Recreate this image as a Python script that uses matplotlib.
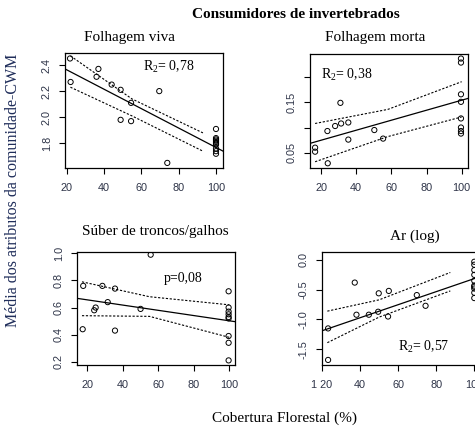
import matplotlib
matplotlib.use("Agg")
import matplotlib.pyplot as plt

plt.rcParams['mathtext.fontset'] = 'custom'
plt.rcParams['mathtext.rm'] = 'Liberation Serif'

W, H = 475, 434

# Folhagem viva
viva_x = [21.8, 22.1, 37, 36, 44.1, 48.9, 54.5, 48.9, 54.5, 69.6, 73.9,
          100, 100, 100, 100, 100, 100, 100, 100, 100, 100]
viva_y = [2.45, 2.27, 2.37, 2.31, 2.25, 2.21, 2.11, 1.98, 1.97, 2.20, 1.65,
          1.91, 1.84, 1.83, 1.82, 1.81, 1.80, 1.79, 1.76, 1.74, 1.72]
viva_fit_x = [19.1, 103.8]
viva_fit_y = [2.37, 1.74]
viva_band_x = [22, 55, 93]
viva_up = [2.47, 2.14, 1.88]
viva_lo = [2.23, 2.01, 1.74]

# Folhagem morta
morta_x = [16.6, 16.6, 23.8, 23.6, 28, 31, 31.4, 35.5, 35.5, 50.3, 55.3,
           99.6, 99.6, 99.6, 99.6, 99.6, 99.6, 99.6, 99.6]
morta_y = [0.060, 0.052, 0.029, 0.093, 0.103, 0.149, 0.108, 0.110, 0.076, 0.095, 0.078,
           0.237, 0.229, 0.166, 0.151, 0.118, 0.100, 0.093, 0.088]
morta_fit_x = [13.7, 103.8]
morta_fit_y = [0.0685, 0.158]
morta_band_x = [16.6, 58, 100]
morta_up = [0.108, 0.136, 0.191]
morta_lo = [0.032, 0.082, 0.121]

# Suber de troncos/galhos
suber_x = [17.7, 17.4, 23.9, 24.7, 28.5, 31.5, 35.6, 35.6, 50, 55.7,
           99.6, 99.6, 99.6, 99.6, 99.6, 99.6, 99.6, 99.6, 99.6]
suber_y = [0.76, 0.44, 0.58, 0.60, 0.76, 0.64, 0.74, 0.43, 0.59, 0.99,
           0.72, 0.60, 0.57, 0.55, 0.53, 0.52, 0.39, 0.34, 0.21]
suber_fit_x = [14.2, 103.2]
suber_fit_y = [0.668, 0.496]
suber_band_x = [17, 55, 100]
suber_up = [0.79, 0.68, 0.62]
suber_lo = [0.54, 0.535, 0.38]

# Ar (log)
ar_x = [23.2, 23.2, 37.2, 38.1, 44.6, 49.5, 49.8, 54.7, 55.1, 69.8, 74.4,
        100, 100, 100, 100, 100, 100, 100, 100, 100, 100]
ar_y = [-1.15, -1.68, -0.38, -0.92, -0.92, -0.87, -0.56, -0.95, -0.52, -0.59, -0.77,
        -0.03, -0.08, -0.17, -0.25, -0.35, -0.43, -0.45, -0.48, -0.55, -0.64]
ar_fit_x = [20, 103]
ar_fit_y = [-1.19, -0.28]
ar_band_x = [22.8, 50, 87.4]
ar_up = [-0.86, -0.67, -0.21]
ar_lo = [-1.39, -0.96, -0.52]

tick_color = '#2e3448'

fig = plt.figure(figsize=(W / 100, H / 100), dpi=100)


def px_axes(l, t, r, b):
    return fig.add_axes([l / W, 1 - b / H, (r - l) / W, (b - t) / H])


def panel(ax, x, y, fx, fy, bx, up, lo, xlim, ylim, yticks, ylabels, xlabels=None):
    ax.scatter(x, y, s=14, facecolors='none', edgecolors='black', linewidths=0.7, zorder=3)
    ax.plot(fx, fy, color='black', lw=0.9)
    ax.plot(bx, up, color='black', lw=0.8, linestyle=(0, (2, 1.5)))
    ax.plot(bx, lo, color='black', lw=0.8, linestyle=(0, (2, 1.5)))
    ax.set_xlim(xlim)
    ax.set_ylim(ylim)
    ax.set_xticks([20, 40, 60, 80, 100])
    if xlabels is not None:
        ax.set_xticklabels(xlabels)
    ax.set_yticks(yticks)
    ax.set_yticklabels(ylabels, rotation=90, va='center')
    ax.tick_params(direction='out', length=4.5, width=0.8, labelsize=7.8,
                   colors='black', labelcolor=tick_color)
    ax.tick_params(axis='x', pad=6)
    ax.tick_params(axis='y', pad=5)
    for lab in ax.get_xticklabels() + ax.get_yticklabels():
        lab.set_family('Liberation Sans')
    for sp in ax.spines.values():
        sp.set_linewidth(0.9)


ax1 = px_axes(65, 53, 223, 168)
panel(ax1, viva_x, viva_y, viva_fit_x, viva_fit_y, viva_band_x, viva_up, viva_lo,
      (19.1, 103.75), (1.611, 2.492), [1.8, 2.0, 2.2, 2.4], ['1.8', '2.0', '2.2', '2.4'])
ax1.text(61, 2.36, r'R$_{\mathregular{2}}$= 0,78', family='Liberation Serif', fontsize=10)

ax2 = px_axes(310, 54, 468, 168)
panel(ax2, morta_x, morta_y, morta_fit_x, morta_fit_y, morta_band_x, morta_up, morta_lo,
      (13.7, 103.6), (0.0196, 0.246), [0.05, 0.10, 0.15, 0.20], ['0.05', '', '0.15', ''])
ax2.text(20, 0.198, r'R$_{\mathregular{2}}$= 0,38', family='Liberation Serif', fontsize=10)

ax3 = px_axes(77, 252, 235, 365)
panel(ax3, suber_x, suber_y, suber_fit_x, suber_fit_y, suber_band_x, suber_up, suber_lo,
      (14.2, 103.2), (0.176, 1.01), [0.2, 0.4, 0.6, 0.8, 1.0], ['0.2', '0.4', '0.6', '0.8', '1.0'])
ax3.text(63, 0.79, 'p=0,08', family='Liberation Serif', fontsize=10)

ax4 = px_axes(322, 252, 480, 365)
panel(ax4, ar_x, ar_y, ar_fit_x, ar_fit_y, ar_band_x, ar_up, ar_lo,
      (20, 103), (-1.765, 0.134), [-1.5, -1.0, -0.5, 0.0], ['-1.5', '-1.0', '-0.5', '0.0'],
      xlabels=['1 20', '40', '60', '80', '100'])
ax4.text(60, -1.53, r'R$_{\mathregular{2}}$= 0,57', family='Liberation Serif', fontsize=10)

fig.text(296 / W, 1 - 15 / H, 'Consumidores de invertebrados', ha='center', va='center',
         family='Liberation Serif', fontweight='bold', fontsize=11)
fig.text(129 / W, 1 - 38 / H, 'Folhagem viva', ha='center', va='center',
         family='Liberation Serif', fontsize=11)
fig.text(375 / W, 1 - 38 / H, 'Folhagem morta', ha='center', va='center',
         family='Liberation Serif', fontsize=11)
fig.text(155 / W, 1 - 232 / H, 'Súber de troncos/galhos', ha='center', va='center',
         family='Liberation Serif', fontsize=11)
fig.text(415 / W, 1 - 236 / H, 'Ar (log)', ha='center', va='center',
         family='Liberation Serif', fontsize=11)
fig.text(13 / W, 1 - 190 / H, 'Média dos atributos da comunidade-CWM', rotation=90,
         ha='center', va='center', family='Liberation Serif', fontsize=11.5, color='#1f2d5a')
fig.text(285 / W, 1 - 418 / H, 'Cobertura Florestal (%)', ha='center', va='center',
         family='Liberation Serif', fontsize=11)

fig.savefig('out.png', dpi=100)
